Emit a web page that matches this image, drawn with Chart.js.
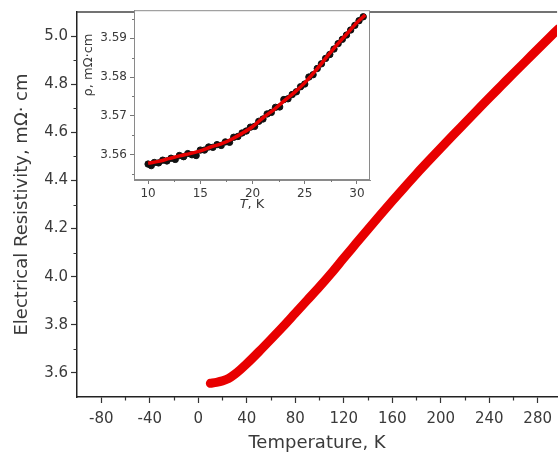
<!DOCTYPE html>
<html>
<head>
<meta charset="utf-8">
<script src="https://cdn.jsdelivr.net/npm/chart.js@4.4.1/dist/chart.umd.min.js"></script>
<style>
  html, body { margin: 0; padding: 0; background: #fff; }
  #wrap { position: relative; width: 559px; height: 455px; overflow: hidden; }
  #main, #inset { position: absolute; left: 0; top: 0; }
</style>
</head>
<body>
<div id="wrap">
  <canvas id="main" width="559" height="455"></canvas>
  <canvas id="inset" width="380" height="222"></canvas>
</div>
<script>
// main curve: resistivity vs temperature
const mainT = [10, 15, 20, 25, 30, 35, 40, 50, 60, 70, 80, 90, 100, 110, 120, 130, 140, 150,
  160, 170, 180, 190, 200, 210, 220, 230, 240, 250, 260, 270, 280, 290, 297]
const mainRho = [3.557, 3.561, 3.567, 3.577, 3.594, 3.615, 3.638, 3.688, 3.740, 3.793, 3.848, 3.903,
  3.958, 4.016, 4.077, 4.137, 4.197, 4.256, 4.314, 4.371, 4.427, 4.481, 4.534, 4.587, 4.639,
  4.691, 4.743, 4.794, 4.845, 4.895, 4.945, 4.995, 5.030]

const mainXTicks = [-80, -40, 0, 40, 80, 120, 160, 200, 240, 280]
const mainXMinor = [-60, -20, 20, 60, 100, 140, 180, 220, 260]
const mainYTicks = [3.6, 3.8, 4.0, 4.2, 4.4, 4.6, 4.8, 5.0]
const mainYMinor = [3.7, 3.9, 4.1, 4.3, 4.5, 4.7, 4.9]

// inset: measured points (black) and fit (red), 10-30 K
const insetT = [10.0, 10.3, 10.6, 11.0, 11.4, 11.8, 12.2, 12.6, 13.0, 13.4, 13.8, 14.2, 14.6, 15.0,
  15.4, 15.8, 16.2, 16.6, 17.0, 17.4, 17.8, 18.2, 18.6, 19.0, 19.4, 19.8, 20.2, 20.6, 21.0, 21.4,
  21.8, 22.2, 22.6, 23.0, 23.4, 23.8, 24.2, 24.6, 25.0, 25.4, 25.8, 26.2, 26.6, 27.0, 27.4, 27.8,
  28.2, 28.6, 29.0, 29.4, 29.8, 30.2, 30.6]
const insetRho = [3.5576, 3.5572, 3.5580, 3.5579, 3.5586, 3.5584, 3.5591, 3.5588, 3.5598, 3.5595,
  3.5603, 3.5600, 3.5598, 3.5612, 3.5612, 3.5620, 3.5619, 3.5626, 3.5624, 3.5633, 3.5632, 3.5645,
  3.5647, 3.5656, 3.5661, 3.5671, 3.5673, 3.5686, 3.5692, 3.5705, 3.5709, 3.5722, 3.5723, 3.5742,
  3.5744, 3.5755, 3.5762, 3.5775, 3.5782, 3.5800, 3.5806, 3.5822, 3.5834, 3.5848, 3.5858, 3.5872,
  3.5886, 3.5897, 3.5908, 3.5921, 3.5933, 3.5945, 3.5955]
const fitT = [10, 11, 12, 13, 14, 15, 16, 17, 18, 19, 20, 21, 22, 23, 24, 25, 26, 27, 28, 29, 30, 30.8]
const fitRho = [3.5578, 3.5583, 3.5590, 3.5597, 3.5603, 3.5610, 3.5620, 3.5628, 3.5640, 3.5655,
  3.5672, 3.5695, 3.5715, 3.5738, 3.5760, 3.5785, 3.5815, 3.5848, 3.5880, 3.5910, 3.5940, 3.5960]

const insetXTicks = [10, 15, 20, 25, 30]
const insetXMinor = [12.5, 17.5, 22.5, 27.5]
const insetYTicks = [3.56, 3.57, 3.58, 3.59]
const insetYMinor = [3.555, 3.565, 3.575, 3.585, 3.595]

const FONT = 'DejaVu Sans'
const TXT = '#3a3a3a'

const toXY = (xs, ys) => xs.map((v, i) => ({ x: v, y: ys[i] }))

// short minor ticks + optional top border
const extraTicks = {
  id: 'extraTicks',
  afterDraw(chart, args, o) {
    const ctx = chart.ctx
    const a = chart.chartArea
    const sx = chart.scales.x, sy = chart.scales.y
    ctx.save()
    ctx.strokeStyle = o.color
    ctx.lineWidth = o.width
    ctx.beginPath()
    o.xMinor.forEach(v => {
      const px = Math.round(sx.getPixelForValue(v)) + 0.5
      ctx.moveTo(px, a.bottom); ctx.lineTo(px, a.bottom + o.len)
    })
    o.yMinor.forEach(v => {
      const py = Math.round(sy.getPixelForValue(v)) + 0.5
      ctx.moveTo(a.left, py); ctx.lineTo(a.left - o.len, py)
    })
    ctx.stroke()
    if (o.top) {
      ctx.strokeStyle = o.frameColor
      ctx.lineWidth = o.frameWidth
      ctx.beginPath()
      ctx.moveTo(a.left, a.top); ctx.lineTo(a.right, a.top)
      ctx.stroke()
    }
    ctx.restore()
  }
}

new Chart(document.getElementById('main'), {
  type: 'line',
  data: {
    datasets: [{
      data: toXY(mainT, mainRho),
      borderColor: '#e80000',
      borderWidth: 9,
      borderCapStyle: 'round',
      pointRadius: 0,
      tension: 0.3,
      cubicInterpolationMode: 'monotone',
      fill: false
    }]
  },
  options: {
    responsive: false,
    animation: false,
    layout: { padding: { top: 5, left: 0, right: 0, bottom: 0 } },
    plugins: {
      legend: { display: false },
      tooltip: { enabled: false },
      extraTicks: {
        xMinor: mainXMinor, yMinor: mainYMinor, len: 3.5, color: '#333', width: 1.2,
        top: true, frameColor: '#444', frameWidth: 1.5
      }
    },
    scales: {
      x: {
        type: 'linear', min: -100, max: 296,
        afterFit: s => { s.height = 58 },
        afterBuildTicks: s => { s.ticks = mainXTicks.map(v => ({ value: v })) },
        grid: { drawOnChartArea: false, drawTicks: true, tickLength: 6, tickColor: '#333', tickWidth: 1.2 },
        border: { color: '#222', width: 1.5 },
        ticks: { color: TXT, font: { family: FONT, size: 15 }, padding: 7, maxRotation: 0, autoSkip: false },
        title: { display: true, text: 'Temperature, K', color: TXT, font: { family: FONT, size: 18 }, padding: { bottom: 1 } }
      },
      y: {
        type: 'linear', min: 3.5, max: 5.1,
        afterFit: s => { s.width = 77 },
        afterBuildTicks: s => { s.ticks = mainYTicks.map(v => ({ value: v })) },
        grid: { drawOnChartArea: false, drawTicks: true, tickLength: 6, tickColor: '#333', tickWidth: 1.2 },
        border: { color: '#222', width: 1.5 },
        ticks: { color: TXT, font: { family: FONT, size: 15 }, padding: 3, autoSkip: false, callback: v => v.toFixed(1) },
        title: { display: true, text: 'Electrical Resistivity, mΩ· cm', color: TXT, font: { family: FONT, size: 18 }, padding: { top: 12 } }
      }
    }
  },
  plugins: [extraTicks]
})

// inset titles (italic T, rho label sits high on the axis)
const insetTitles = {
  id: 'insetTitles',
  afterDraw(chart) {
    const ctx = chart.ctx
    const a = chart.chartArea
    ctx.save()
    ctx.fillStyle = TXT
    ctx.textBaseline = 'middle'
    const cx = (a.left + a.right) / 2
    ctx.font = 'italic 13px "' + FONT + '"'
    const w1 = ctx.measureText('T').width
    ctx.font = '13px "' + FONT + '"'
    const w2 = ctx.measureText(', K').width
    const x0 = cx - (w1 + w2) / 2
    ctx.font = 'italic 13px "' + FONT + '"'
    ctx.textAlign = 'left'
    ctx.fillText('T', x0, 205)
    ctx.font = '13px "' + FONT + '"'
    ctx.fillText(', K', x0 + w1, 205)
    ctx.translate(89, 65)
    ctx.rotate(-Math.PI / 2)
    ctx.textAlign = 'center'
    ctx.fillText('ρ, mΩ·cm', 0, 0)
    ctx.restore()
  }
}

const insetFrame = {
  id: 'insetFrame',
  beforeDraw(chart) {
    const ctx = chart.ctx
    const a = chart.chartArea
    ctx.save()
    ctx.fillStyle = '#fff'
    ctx.fillRect(a.left, a.top, a.right - a.left, a.bottom - a.top)
    ctx.restore()
  },
  afterDraw(chart) {
    const ctx = chart.ctx
    const a = chart.chartArea
    ctx.save()
    ctx.strokeStyle = '#8a8a8a'
    ctx.lineWidth = 1
    ctx.strokeRect(a.left + 0.5, a.top + 0.5, a.right - a.left - 1, a.bottom - a.top - 1)
    ctx.restore()
  }
}

new Chart(document.getElementById('inset'), {
  type: 'scatter',
  data: {
    datasets: [{
      type: 'line',
      data: toXY(fitT, fitRho),
      borderColor: '#e80000',
      borderWidth: 3.5,
      pointRadius: 0,
      tension: 0.3,
      order: 0
    }, {
      data: toXY(insetT, insetRho),
      backgroundColor: '#111',
      borderColor: '#111',
      pointRadius: 3.2,
      order: 1
    }]
  },
  options: {
    responsive: false,
    animation: false,
    layout: { padding: { top: 10, right: 10, left: 0, bottom: 0 } },
    plugins: {
      legend: { display: false },
      tooltip: { enabled: false },
      extraTicks: {
        xMinor: insetXMinor, yMinor: insetYMinor, len: 2, color: '#777', width: 1, top: false
      }
    },
    scales: {
      x: {
        type: 'linear', min: 8.65, max: 31.25,
        afterFit: s => { s.height = 42 },
        afterBuildTicks: s => { s.ticks = insetXTicks.map(v => ({ value: v })) },
        grid: { drawOnChartArea: false, drawTicks: true, tickLength: 4, tickColor: '#777' },
        border: { color: '#8a8a8a', width: 1 },
        ticks: { color: TXT, font: { family: FONT, size: 12 }, padding: 3, maxRotation: 0, autoSkip: false }
      },
      y: {
        type: 'linear', min: 3.5535, max: 3.5972,
        afterFit: s => { s.width = 134 },
        afterBuildTicks: s => { s.ticks = insetYTicks.map(v => ({ value: v })) },
        grid: { drawOnChartArea: false, drawTicks: true, tickLength: 4, tickColor: '#777' },
        border: { color: '#8a8a8a', width: 1 },
        ticks: { color: TXT, font: { family: FONT, size: 12 }, padding: 3, autoSkip: false, callback: v => v.toFixed(2) }
      }
    }
  },
  plugins: [insetFrame, extraTicks, insetTitles]
})
</script>
</body>
</html>
